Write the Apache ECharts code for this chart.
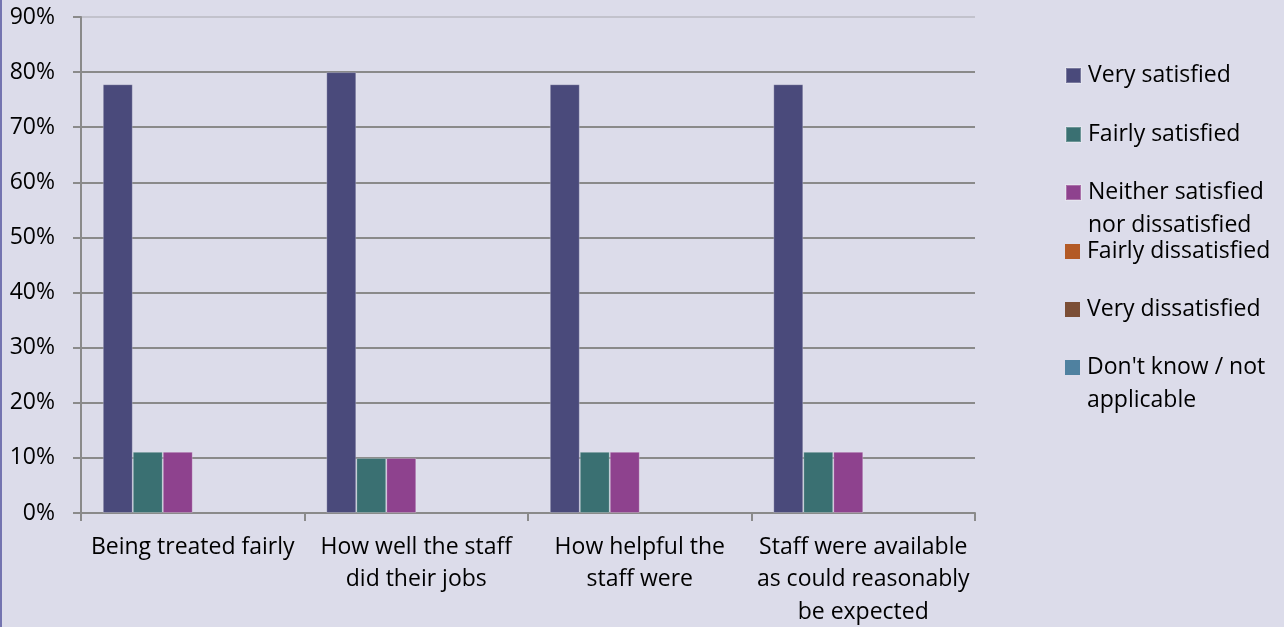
<!DOCTYPE html>
<html>
<head>
<meta charset="utf-8">
<script src="https://cdn.jsdelivr.net/npm/echarts@6/dist/echarts.min.js"></script>
<style>
html,body{margin:0;padding:0;background:#dcdcea;}
#wrap{position:relative;width:1284px;height:627px;}
#chart{position:absolute;left:0;top:0;width:1284px;height:627px;}
#edge{position:absolute;left:0;top:0;width:2px;height:627px;background:#7474b0;}
</style>
</head>
<body>
<div id="wrap"><div id="chart"></div><div id="edge"></div></div>
<script>
const categories = [
  'Being treated fairly',
  'How well the staff\ndid their jobs',
  'How helpful the\nstaff were',
  'Staff were available\nas could reasonably\nbe expected'
];
const seriesNames = [
  'Very satisfied',
  'Fairly satisfied',
  'Neither satisfied\nnor dissatisfied',
  'Fairly dissatisfied',
  'Very dissatisfied',
  "Don't know / not\napplicable"
];
const verySatisfied = [77.8, 80, 77.8, 77.8];
const fairlySatisfied = [11.1, 10, 11.1, 11.1];
const neitherSatisfied = [11.1, 10, 11.1, 11.1];
const fairlyDissatisfied = [0, 0, 0, 0];
const veryDissatisfied = [0, 0, 0, 0];
const dontKnow = [0, 0, 0, 0];
const yTicks = [0, 10, 20, 30, 40, 50, 60, 70, 80, 90];
const colors = ['#4a4a7b', '#3a7072', '#8e428e', '#b35a26', '#7b4e36', '#4f81a0'];

const seriesData = [verySatisfied, fairlySatisfied, neitherSatisfied, fairlyDissatisfied, veryDissatisfied, dontKnow];
const FONT = 'Open Sans';
const legendTops = [59, 118, 143, 235, 293, 318];

const chart = echarts.init(document.getElementById('chart'), null, {renderer: 'canvas'});
const option = {
  animation: false,
  backgroundColor: '#dcdcea',
  color: colors,
  textStyle: {fontFamily: FONT},
  grid: {left: 81, right: 309, top: 17, bottom: 114, containLabel: false, outerBoundsMode: 'none'},
  legend: seriesNames.map((n, i) => ({
    data: [n],
    orient: 'vertical',
    left: 1065,
    top: legendTops[i],
    padding: 0,
    itemWidth: 15,
    itemHeight: 15,
    icon: 'rect',
    selectedMode: false,
    formatter: n.indexOf('\n') >= 0 ? '\u00a0\n{name}' : '{name}',
    textStyle: {
      fontFamily: FONT, fontSize: 23, color: '#000', lineHeight: 33,
      padding: [0, 0, 0, 2]
    }
  })),
  xAxis: {
    type: 'category',
    data: categories,
    axisLine: {show: true, lineStyle: {color: '#8a8a8a', width: 2}},
    axisTick: {show: true, length: 8, lineStyle: {color: '#8a8a8a', width: 2}},
    axisLabel: {fontFamily: FONT, fontSize: 23, color: '#000', lineHeight: 32.5, margin: 18, interval: 0},
    splitLine: {show: false}
  },
  yAxis: {
    type: 'value',
    min: yTicks[0],
    max: yTicks[yTicks.length - 1],
    interval: 10,
    axisLine: {show: true, lineStyle: {color: '#8a8a8a', width: 2}},
    axisTick: {show: true, length: 8, lineStyle: {color: '#8a8a8a', width: 2}},
    axisLabel: {fontFamily: FONT, fontSize: 23, color: '#000', margin: 26, formatter: '{value}%'},
    splitLine: {show: true, lineStyle: {color: ['#8a8a8a','#8a8a8a','#8a8a8a','#8a8a8a','#8a8a8a','#8a8a8a','#8a8a8a','#8a8a8a','#8a8a8a','#c2c2cc'], width: 2}}
  },
  series: seriesNames.map((n, i) => ({
    name: n,
    type: 'bar',
    data: seriesData[i],
    barGap: '0%',
    barCategoryGap: '19.5%',
    itemStyle: i < 3 ? {color: colors[i], borderColor: 'rgba(255,255,255,0.25)', borderWidth: 1} : {color: colors[i]}
  }))
};
chart.setOption(option);
</script>
</body>
</html>
